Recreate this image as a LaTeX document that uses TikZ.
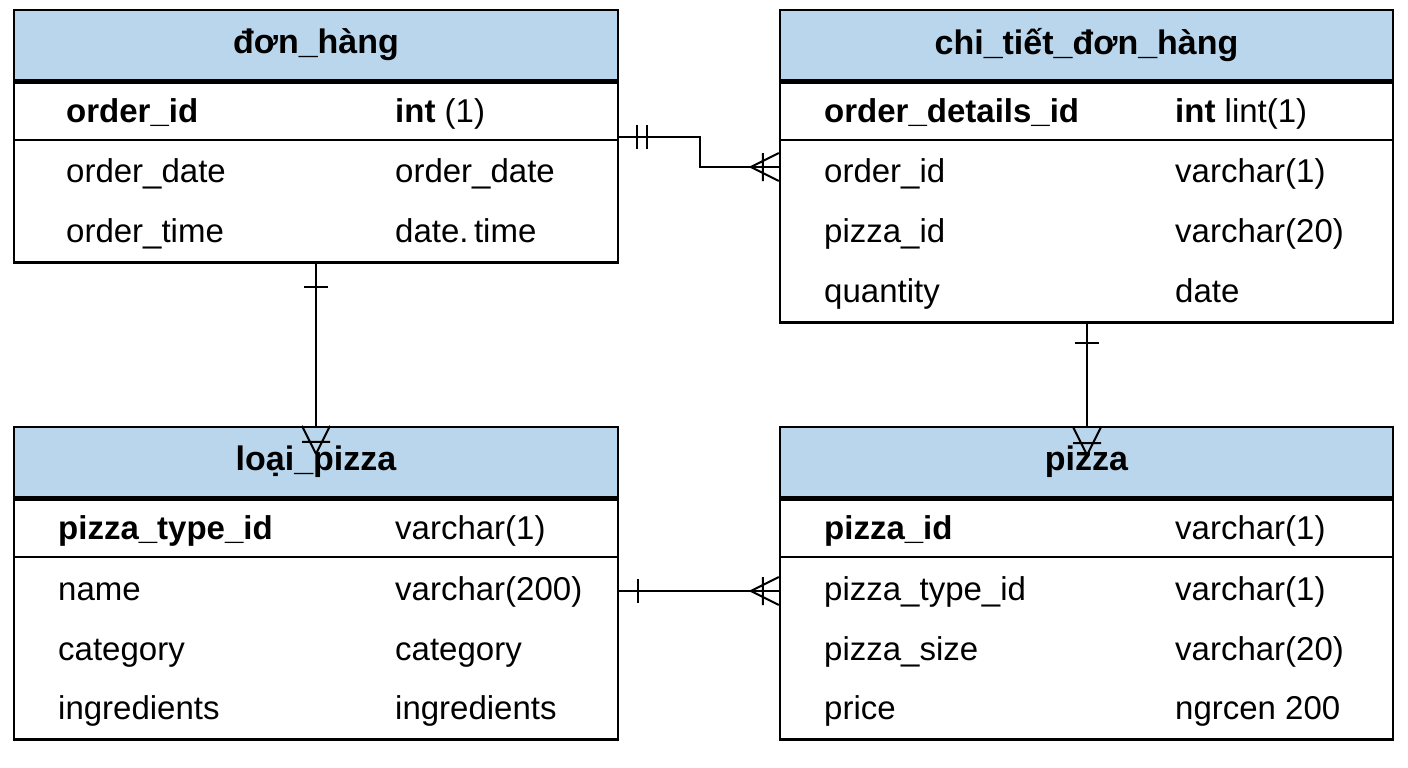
\documentclass[tikz,border=0pt]{standalone}
\usepackage{fontspec}
\setmainfont{Liberation Sans}
\usetikzlibrary{positioning,calc}
\definecolor{hdrblue}{RGB}{185,214,236}
\tikzset{
  hdr/.style={draw=black, line width=2.4pt, fill=hdrblue, minimum width=604pt, minimum height=70pt, inner sep=0pt, font=\fontsize{34}{36}\selectfont\bfseries},
  body/.style={draw=black, line width=2.4pt, minimum width=604pt, inner sep=0pt, anchor=north},
  fld/.style={anchor=base west, inner sep=0pt, yshift=-12pt, font=\fontsize{33}{36}\selectfont},
  link/.style={line width=2pt},
  crow/.pic={\draw[line width=2pt] (-28,0) -- (0,-14) (-28,0) -- (0,14) (-16,-14) -- (-16,14);},
  one/.pic={\draw[line width=2pt] (0,-12) -- (0,12);}
}
\begin{document}
\begin{tikzpicture}[x=1pt,y=-1pt]
\useasboundingbox (0,0) rectangle (1408,768);
% tables
\node[hdr] (donhang) at (316,45) {đơn\_hàng};
\node[body, minimum height=180pt] (donhangb) at (donhang.south) {};
\node[hdr, minimum width=613pt] (chitiet) at (1086.5,45) {chi\_tiết\_đơn\_hàng};
\node[body, minimum width=613pt, minimum height=240pt] (chitietb) at (chitiet.south) {};
\node[hdr] (loai) at (316,462) {loại\_pizza};
\node[body, minimum height=240pt] (loaib) at (loai.south) {};
\node[hdr, minimum width=613pt] (pizza) at (1086.5,462) {pizza};
\node[body, minimum width=613pt, minimum height=240pt] (pizzab) at (pizza.south) {};
\draw[line width=1.5pt] (14,140) -- (618,140) (14,557) -- (618,557)
  (780,140) -- (1393,140) (780,557) -- (1393,557);
% fields
\node[fld] at (66,110) {\textbf{order\_id}};
\node[fld] at (395,110) {\textbf{int} (1)};
\node[fld] at (66,170) {order\_date};
\node[fld] at (395,170) {order\_date};
\node[fld] at (66,230) {order\_time};
\node[fld] at (395,230) {date.\,time};
\node[fld] at (824,110) {\textbf{order\_details\_id}};
\node[fld] at (1175,110) {\textbf{int} lint(1)};
\node[fld] at (824,170) {order\_id};
\node[fld] at (1175,170) {varchar(1)};
\node[fld] at (824,230) {pizza\_id};
\node[fld] at (1175,230) {varchar(20)};
\node[fld] at (824,290) {quantity};
\node[fld] at (1175,290) {date};
\node[fld] at (58,527) {\textbf{pizza\_type\_id}};
\node[fld] at (395,527) {varchar(1)};
\node[fld] at (58,588) {name};
\node[fld] at (395,588) {varchar(200)};
\node[fld] at (58,648) {category};
\node[fld] at (395,648) {category};
\node[fld] at (58,707) {ingredients};
\node[fld] at (395,707) {ingredients};
\node[fld] at (824,527) {\textbf{pizza\_id}};
\node[fld] at (1175,527) {varchar(1)};
\node[fld] at (824,588) {pizza\_type\_id};
\node[fld] at (1175,588) {varchar(1)};
\node[fld] at (824,648) {pizza\_size};
\node[fld] at (1175,648) {varchar(20)};
\node[fld] at (824,707) {price};
\node[fld] at (1175,707) {ngrcen 200};
% relations
\coordinate (a1) at (donhangb.east |- 0,137);
\coordinate (a2) at (chitietb.west |- 0,167);
\draw[link] (a1) -- (700,137) -- (700,167) -- (a2);
\pic at ($(a1)+(18,0)$) {one}; \pic at ($(a1)+(28,0)$) {one};
\pic at (a2) {crow};
\draw[link] (donhangb.south) -- (loai.north);
\pic[rotate=90] at ($(donhangb.south)+(0,23)$) {one};
\pic[rotate=90] at (loai.north) {crow};
\draw[link] (chitietb.south -| 1087,0) -- (pizza.north -| 1087,0);
\pic[rotate=90] at (1087,343) {one};
\pic[rotate=90] at (1087,427) {crow};
\coordinate (b1) at (loaib.east |- 0,591);
\coordinate (b2) at (pizzab.west |- 0,591);
\draw[link] (b1) -- (b2);
\pic at ($(b1)+(19,0)$) {one};
\pic at (b2) {crow};
\end{tikzpicture}
\end{document}
